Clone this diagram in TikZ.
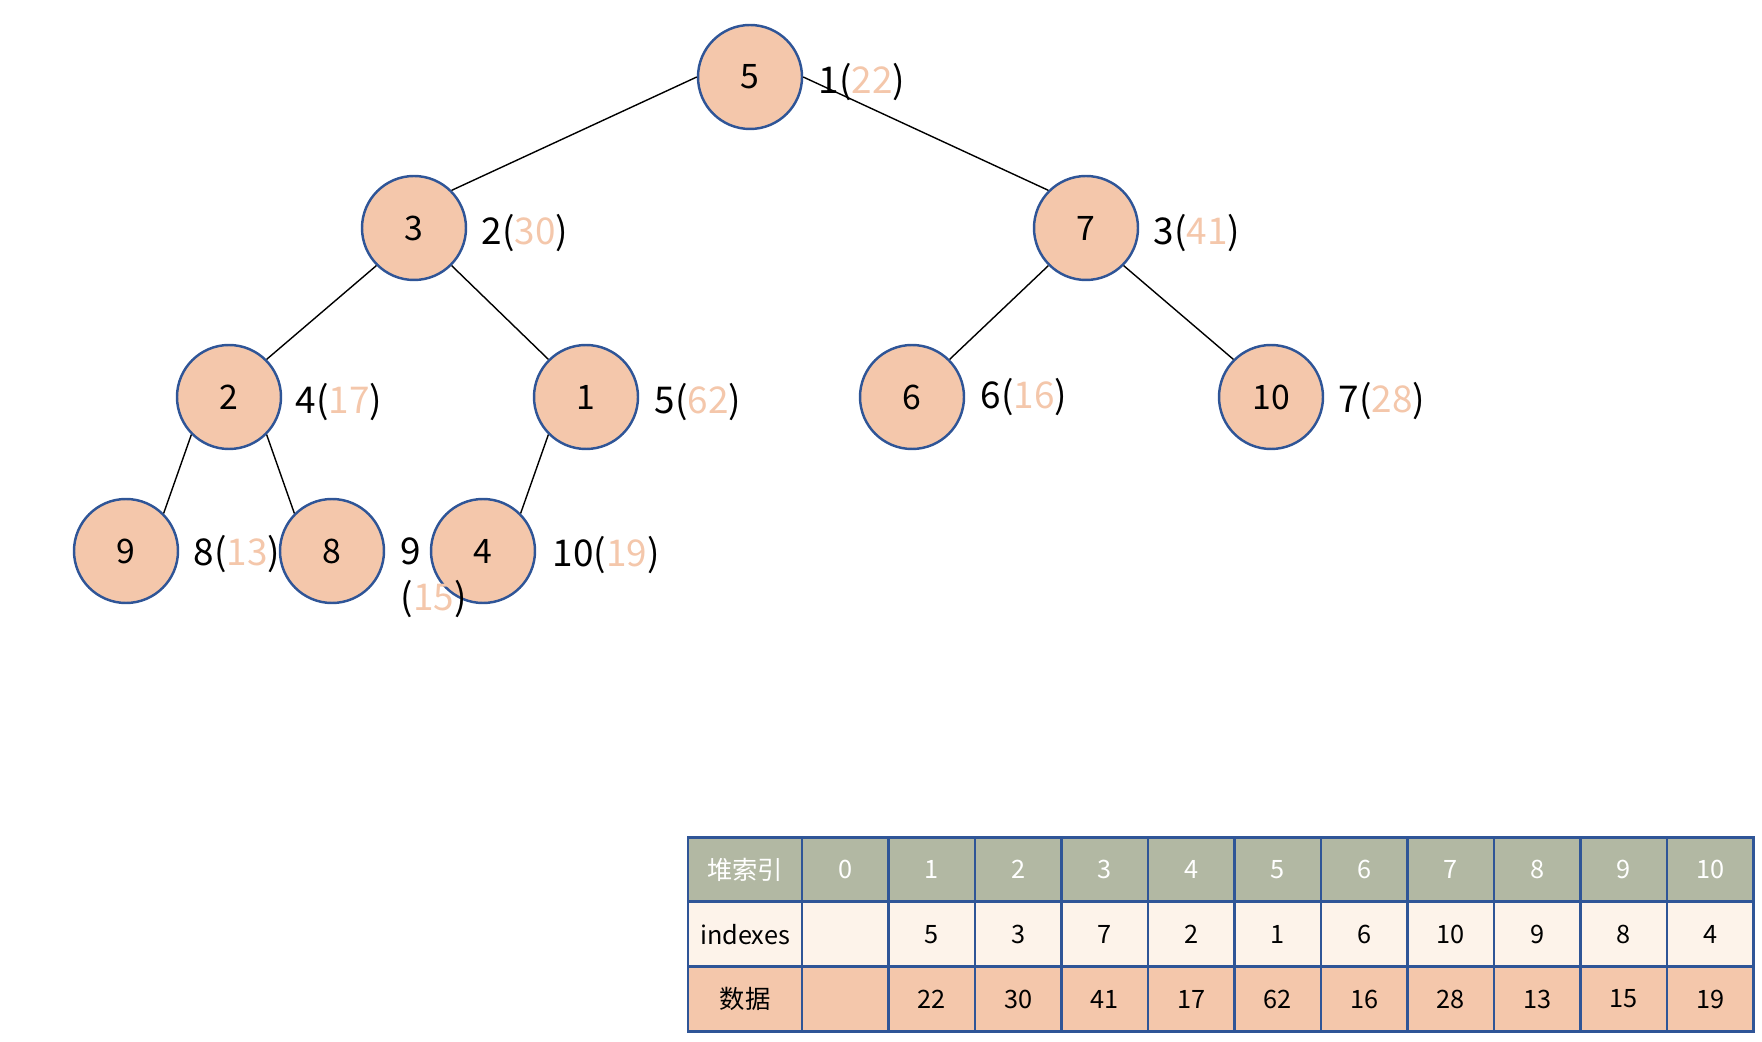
\documentclass[tikz,border=0pt]{standalone}
\usepackage{fontspec}
\setmainfont{Noto Sans CJK SC}
\usepackage{xcolor}
\definecolor{mypeach}{HTML}{F4C7AB}
\definecolor{myblue}{HTML}{2F5597}
\definecolor{mygray}{HTML}{B2B8A3}
\definecolor{mycream}{HTML}{FDF3EA}
\newcommand{\HeapLbl}[2]{#1(\textcolor{mypeach}{#2})}
\newcommand{\LblFont}{\fontsize{10.5}{13}\selectfont}
\newcommand{\CellFont}{\fontsize{7.2}{9}\selectfont}

\begin{document}
\begin{tikzpicture}[x=0.1mm,y=0.1mm,
  heap/.style={circle, draw=myblue, line width=0.7pt, fill=mypeach, minimum size=10.4mm, inner sep=0pt, font=\fontsize{9.6}{11}\selectfont},
  lbl/.style={anchor=west, inner sep=0pt, font=\LblFont},
  cell/.style={draw=myblue, line width=0.8pt, minimum width=8.65mm, minimum height=6.47mm, inner sep=0pt, font=\CellFont},
  first/.style={minimum width=11.4mm},
  head/.style={cell, fill=mygray, text=white},
  idx/.style={cell, fill=mycream},
  dat/.style={cell, fill=mypeach}]
  \useasboundingbox (0,0) rectangle (1762,-1042);
  % heap tree
  \node[heap] (H1)  at (750, -77)  {5};
  \node[heap] (H2)  at (414, -228) {3};
  \node[heap] (H3)  at (1086, -228) {7};
  \node[heap] (H4)  at (229, -397) {2};
  \node[heap] (H5)  at (586, -397) {1};
  \node[heap] (H6)  at (912, -397) {6};
  \node[heap] (H7)  at (1271, -397) {10};
  \node[heap] (H8)  at (126, -551) {9};
  \node[heap] (H9)  at (332, -551) {8};
  \node[heap] (H10) at (483, -551) {4};
  \draw[line width=0.4pt] (H1.west) -- (H2.north east);
  \draw[line width=0.4pt] (H1.east) -- (H3.north west);
  \draw[line width=0.4pt] (H2.south west) -- (H4.north east);
  \draw[line width=0.4pt] (H2.south east) -- (H5.north west);
  \draw[line width=0.4pt] (H3.south west) -- (H6.north east);
  \draw[line width=0.4pt] (H3.south east) -- (H7.north west);
  \draw[line width=0.4pt] (H4.south west) -- (H8.north east);
  \draw[line width=0.4pt] (H4.south east) -- (H9.north west);
  \draw[line width=0.4pt] (H5.south west) -- (H10.north east);
  % index(data) labels
  \node[lbl] (L1)  at (818, -82)  {\HeapLbl{1}{22}};
  \node[lbl] (L2)  at (481, -233) {\HeapLbl{2}{30}};
  \node[lbl] (L3)  at (1153, -233) {\HeapLbl{3}{41}};
  \node[lbl] (L4)  at (295, -402) {\HeapLbl{4}{17}};
  \node[lbl] (L5)  at (654, -402) {\HeapLbl{5}{62}};
  \node[lbl] (L6)  at (980, -397) {\HeapLbl{6}{16}};
  \node[lbl] (L7)  at (1338, -401) {\HeapLbl{7}{28}};
  \node[lbl] (L8)  at (193, -554) {\HeapLbl{8}{13}};
  \node[lbl, align=left] (L9) at (400, -578) {9\\(\textcolor{mypeach}{15})};
  \node[lbl] (L10) at (552, -555) {\HeapLbl{10}{19}};
  % table
  \node[head, first] (Khd) at (745, -869.5) {堆索引};
  \node[head] (K0)  at (845.3, -869.5)  {0};
  \node[head] (K1)  at (931.8, -869.5)  {1};
  \node[head] (K2)  at (1018.3, -869.5) {2};
  \node[head] (K3)  at (1104.8, -869.5) {3};
  \node[head] (K4)  at (1191.3, -869.5) {4};
  \node[head] (K5)  at (1277.8, -869.5) {5};
  \node[head] (K6)  at (1364.3, -869.5) {6};
  \node[head] (K7)  at (1450.8, -869.5) {7};
  \node[head] (K8)  at (1537.3, -869.5) {8};
  \node[head] (K9)  at (1623.8, -869.5) {9};
  \node[head] (K10) at (1710.3, -869.5) {10};
  \node[idx, first] (Ihd) at (745, -934.2) {indexes};
  \node[idx] (I0)  at (845.3, -934.2)  {};
  \node[idx] (I1)  at (931.8, -934.2)  {5};
  \node[idx] (I2)  at (1018.3, -934.2) {3};
  \node[idx] (I3)  at (1104.8, -934.2) {7};
  \node[idx] (I4)  at (1191.3, -934.2) {2};
  \node[idx] (I5)  at (1277.8, -934.2) {1};
  \node[idx] (I6)  at (1364.3, -934.2) {6};
  \node[idx] (I7)  at (1450.8, -934.2) {10};
  \node[idx] (I8)  at (1537.3, -934.2) {9};
  \node[idx] (I9)  at (1623.8, -934.2) {8};
  \node[idx] (I10) at (1710.3, -934.2) {4};
  \node[dat, first] (Dhd) at (745, -999) {数据};
  \node[dat] (D0)  at (845.3, -999)  {};
  \node[dat] (D1)  at (931.8, -999)  {22};
  \node[dat] (D2)  at (1018.3, -999) {30};
  \node[dat] (D3)  at (1104.8, -999) {41};
  \node[dat] (D4)  at (1191.3, -999) {17};
  \node[dat] (D5)  at (1277.8, -999) {62};
  \node[dat] (D6)  at (1364.3, -999) {16};
  \node[dat] (D7)  at (1450.8, -999) {28};
  \node[dat] (D8)  at (1537.3, -999) {13};
  \node[dat] (D9)  at (1623.8, -999) {15};
  \node[dat] (D10) at (1710.3, -999) {19};
\end{tikzpicture}
\end{document}
